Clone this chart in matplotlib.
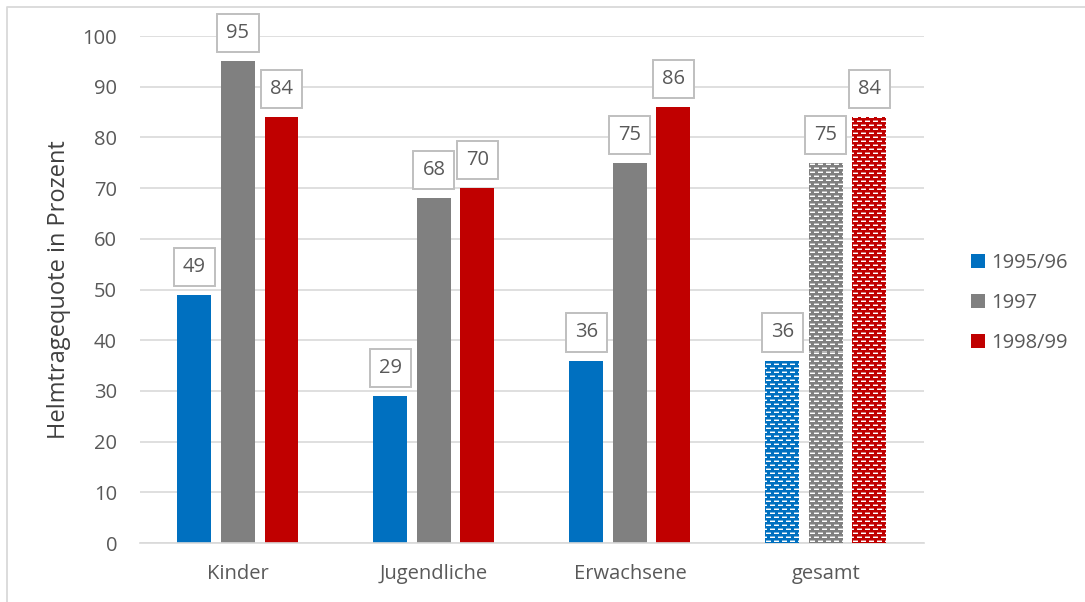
import numpy as np
import matplotlib
matplotlib.use("Agg")
import matplotlib.pyplot as plt
from matplotlib.lines import Line2D

plt.rcParams['font.family'] = ['Open Sans', 'DejaVu Sans']

categories = ["Kinder", "Jugendliche", "Erwachsene", "gesamt"]
series_names = ["1995/96", "1997", "1998/99"]
values_1995 = [49, 29, 36, 36]
values_1997 = [95, 68, 75, 75]
values_1998 = [84, 70, 86, 84]
series_values = [values_1995, values_1997, values_1998]
colors = ["#0070C0", "#808080", "#C00000"]
yticks = [0, 10, 20, 30, 40, 50, 60, 70, 80, 90, 100]

text_col = "#595959"
grid_col = "#D9D9D9"

fig = plt.figure(figsize=(10.85, 6.02), dpi=100)
# chart-area frame (left and top edges)
fig.lines.append(Line2D([6.5 / 1085, 6.5 / 1085, 1.0], [0.0, 1 - 7 / 602, 1 - 7 / 602],
                        transform=fig.transFigure, color=grid_col, linewidth=1.3))
ax = fig.add_axes([0.129, 0.098, 0.7225, 0.842])

x = np.arange(len(categories))
bar_w = 0.173
step = 0.222
ax.set_xlim(-0.5, len(categories) - 0.5)
ax.set_ylim(0, 100)

def dash_texture(color, w_px, h_px):
    # Brick-like rows of short white dashes on the series colour
    rgb = np.array(matplotlib.colors.to_rgb(color))
    img = np.ones((h_px, w_px, 3)) * rgb
    white = np.ones(3)
    for r in range(h_px):
        k = r % 4
        if k in (1, 2):
            off = 0 if (r // 4) % 2 == 0 else 4
            mix = 1.0 if k == 1 else 0.45
            for c in range(w_px):
                if (c + off) % 8 in (1, 2, 3, 4, 5):
                    img[r, c] = mix * white + (1 - mix) * rgb
    return img

for i, (vals, col, name) in enumerate(zip(series_values, colors, series_names)):
    pos = x + (i - 1) * step
    ax.bar(pos[:3], vals[:3], width=bar_w, color=col, label=name, zorder=2)
    hb = ax.bar(pos[3:], vals[3:], width=bar_w, color=col, zorder=2)
    for p in hb.patches:
        x0, y0 = p.get_x(), p.get_y()
        x1, y1 = x0 + p.get_width(), y0 + p.get_height()
        (dx0, dy0), (dx1, dy1) = ax.transData.transform([(x0, y0), (x1, y1)])
        w_px = max(int(round(dx1 - dx0)), 1)
        h_px = max(int(round(dy1 - dy0)), 1)
        im = ax.imshow(dash_texture(col, w_px, h_px), extent=(x0, x1, y0, y1),
                       origin="lower", interpolation="nearest", aspect="auto", zorder=3)
        im.set_clip_path(p)
    for xp, v in zip(pos, vals):
        ax.annotate(f"{v}", (xp, v), xytext=(0, 13), textcoords="offset points",
                    ha="center", va="bottom", fontsize=14.5, color=text_col, zorder=5,
                    bbox=dict(boxstyle="square,pad=0.45", fc="white", ec="#BFBFBF", lw=1.4))

ax.set_xlim(-0.5, len(categories) - 0.5)
ax.set_ylim(0, 100)
ax.set_yticks(yticks)
ax.set_xticks(x)
ax.set_xticklabels(categories)
ax.tick_params(axis="both", length=0, labelsize=14.5, labelcolor=text_col)
ax.tick_params(axis="y", pad=16.5)
ax.tick_params(axis="x", pad=15)
ax.grid(axis="y", color=grid_col, linewidth=1.2, zorder=0)
ax.set_axisbelow(True)
for s in ["top", "right", "left"]:
    ax.spines[s].set_visible(False)
ax.spines["bottom"].set_color(grid_col)
ax.spines["bottom"].set_linewidth(1.2)
ax.set_ylabel("Helmtragequote in Prozent", fontsize=17, color="#404040", labelpad=8)

fig.legend(loc="center left", bbox_to_anchor=(971 / 1085, 1 - 303 / 602),
           bbox_transform=fig.transFigure, frameon=False, fontsize=14.5,
           handlelength=0.7, handleheight=0.7, handletextpad=0.3, labelspacing=1.0,
           borderpad=0, borderaxespad=0, labelcolor=text_col)

fig.savefig("out.png", dpi=100)
